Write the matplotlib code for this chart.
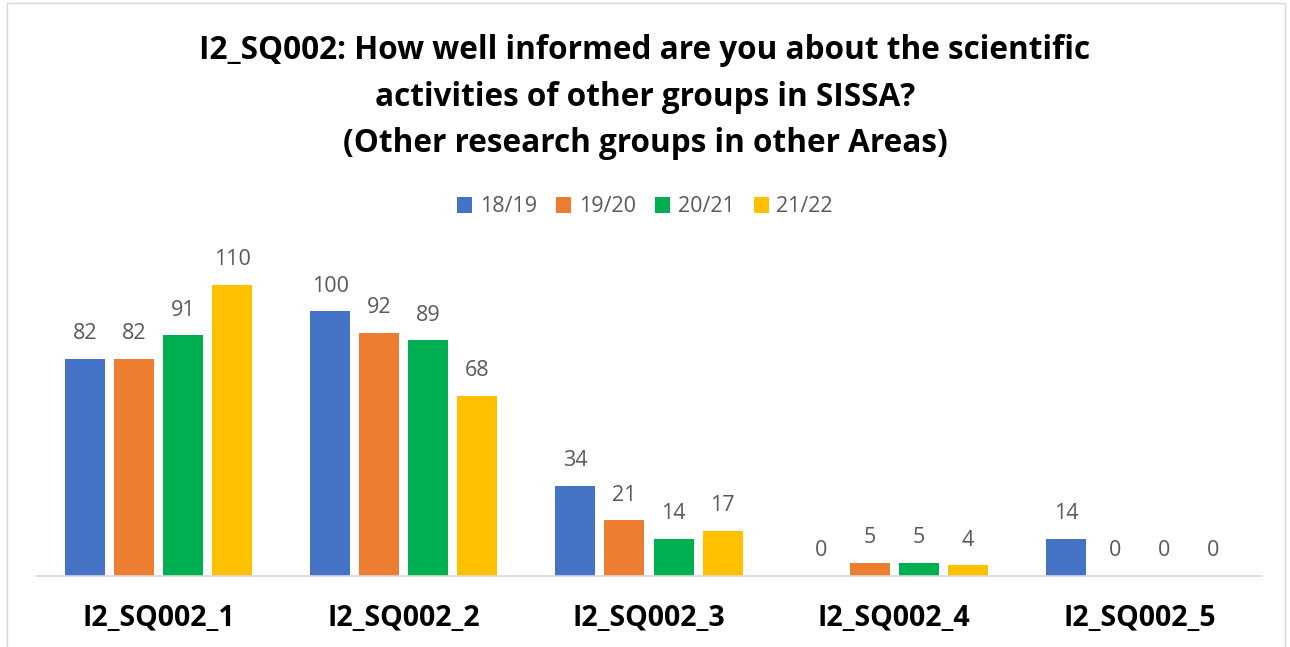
import numpy as np
import matplotlib.pyplot as plt
from matplotlib.patches import Rectangle

categories = ['I2_SQ002_1', 'I2_SQ002_2', 'I2_SQ002_3', 'I2_SQ002_4', 'I2_SQ002_5']
years = ['18/19', '19/20', '20/21', '21/22']
v_1819 = [82, 100, 34, 0, 14]
v_1920 = [82, 92, 21, 5, 0]
v_2021 = [91, 89, 14, 5, 0]
v_2122 = [110, 68, 17, 4, 0]
colors = ['#4472C4', '#ED7D31', '#00B050', '#FFC000']

plt.rcParams['font.family'] = ['Open Sans', 'DejaVu Sans']

fig = plt.figure(figsize=(12.9, 6.47), dpi=100)
ax = fig.add_axes([36 / 1290, 1 - 576 / 647, 1226 / 1290, 344 / 647])

x = np.arange(len(categories))
width = 0.163
step = 0.2
series = [v_1819, v_1920, v_2021, v_2122]
for i, (vals, col, lab) in enumerate(zip(series, colors, years)):
    pos = x + (i - 1.5) * step
    ax.bar(pos, vals, width, color=col, label=lab)
    for xp, v in zip(pos, vals):
        ax.text(xp, v + 9.5, str(v), ha='center', va='center',
                fontsize=15.5, color='#595959')

ax.set_xlim(-0.5, len(categories) - 0.5)
ax.set_ylim(0, 130)
ax.set_yticks([])
ax.set_xticks(x)
ax.set_xticklabels(categories, fontsize=20.5, fontweight='bold', color='black')
ax.tick_params(axis='x', length=0, pad=20)
for s in ['top', 'right', 'left']:
    ax.spines[s].set_visible(False)
ax.spines['bottom'].set_color('#D9D9D9')
ax.spines['bottom'].set_linewidth(1.2)

fig.text(0.5, 1 - 97 / 647,
         'I2_SQ002: How well informed are you about the scientific\n'
         'activities of other groups in SISSA?\n'
         '(Other research groups in other Areas)',
         ha='center', va='center', fontsize=22.7, fontweight='bold',
         linespacing=1.55)

fig.legend(loc='center', bbox_to_anchor=(0.5, 1 - 207 / 647), ncol=4,
           frameon=False, fontsize=15.5, labelcolor='#595959',
           handlelength=0.7, handleheight=0.7, handletextpad=0.35,
           columnspacing=0.9)

fig.patches.append(Rectangle((7 / 1290, -0.01), 1278 / 1290, 1.005,
                             transform=fig.transFigure, fill=False,
                             edgecolor='#D9D9D9', linewidth=1))

fig.savefig('out.png', dpi=100)
